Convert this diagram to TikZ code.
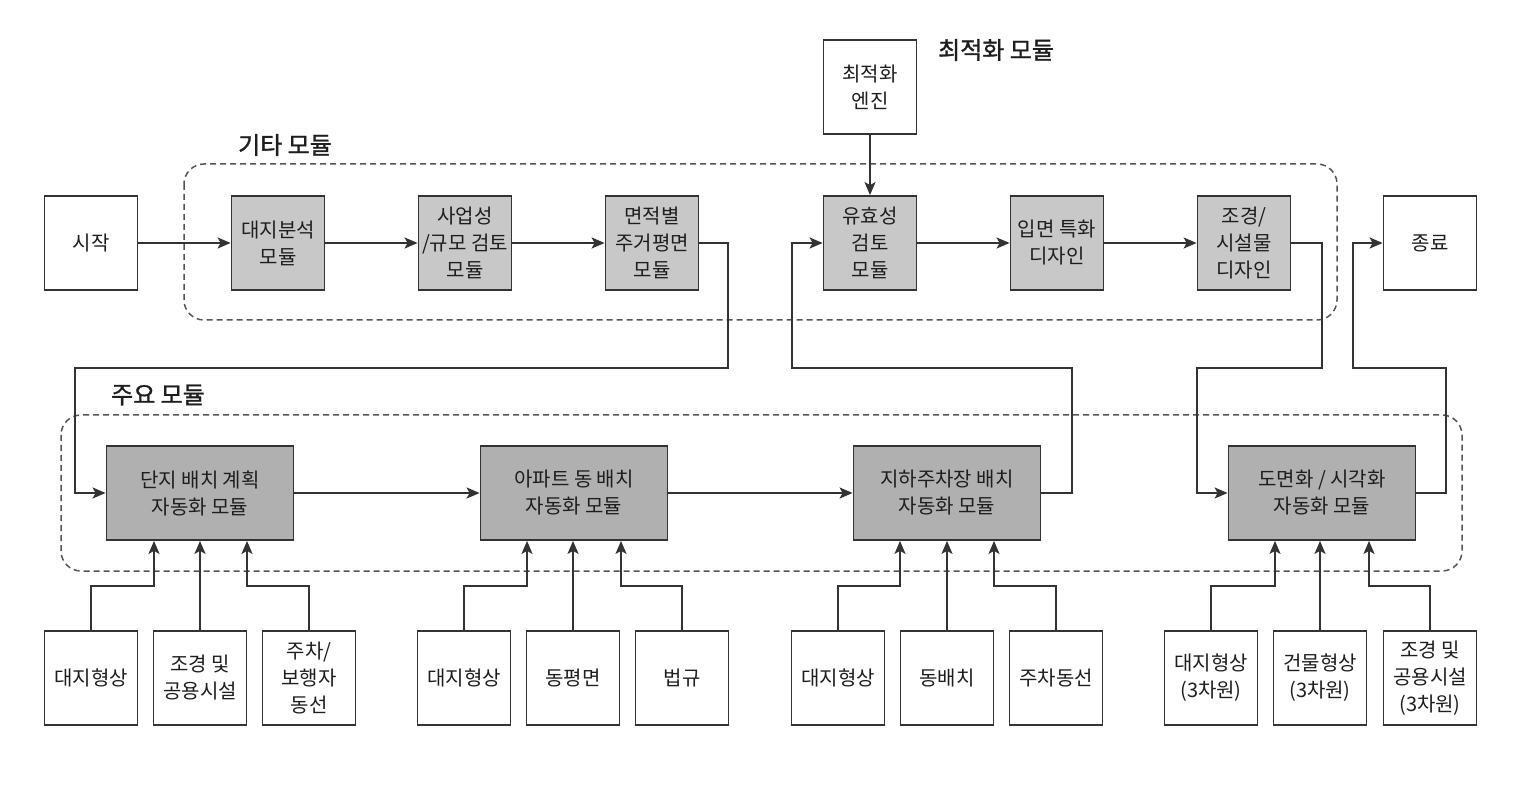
\documentclass[tikz,border=0pt]{standalone}
\usepackage{fontspec}
\setmainfont{Noto Sans CJK KR}
\newfontfamily\krfont{Noto Sans CJK KR}
\newfontfamily\krlabel{Noto Sans CJK KR}[FakeBold=1.2]
\usetikzlibrary{arrows.meta,calc}
\definecolor{linec}{HTML}{333333}
\definecolor{gtop}{HTML}{C8C8C8}
\definecolor{gmain}{HTML}{B0B0B0}
\definecolor{dashc}{HTML}{555555}
\definecolor{txt}{HTML}{1E1E1E}
\tikzset{
  boxtext/.style={font=\krfont\fontsize{20}{27}\selectfont, text=txt, align=center},
  wbox/.style={boxtext, draw=linec, line width=1.8pt, fill=white, minimum width=93pt, minimum height=94pt, inner sep=0pt},
  gbox/.style={wbox, fill=gtop},
  mbox/.style={wbox, fill=gmain, minimum width=187pt},
  conn/.style={draw=linec, line width=1.8pt, -{Stealth[length=13pt,width=11pt,inset=3pt]}},
  dashbox/.style={draw=dashc, line width=1.5pt, dash pattern=on 6pt off 4pt, rounded corners=20pt},
  grouplabel/.style={font=\krlabel\fontsize{24}{27}\selectfont, text=txt}
}
\begin{document}
\begin{tikzpicture}[x=1pt,y=-1pt]
\useasboundingbox (0,0) rectangle (1516,791);
% group frames
\draw[dashbox] (184,164) rectangle (1337,320);
\draw[dashbox] (61,415) rectangle (1462,571);
\node[grouplabel] (lblopt) at (996,50) {최적화 모듈};
\node[grouplabel] (lblother) at (285,145) {기타 모듈};
\node[grouplabel] (lblmain) at (158,395) {주요 모듈};
% top row
\node[wbox] (start) at (91,243) {시작};
\node[gbox] (site) at (278,243) {대지분석\\모듈};
\node[gbox] (biz) at (465,243) {사업성\\/규모 검토\\모듈};
\node[gbox] (plan) at (652,243) {면적별\\주거평면\\모듈};
\node[wbox] (engine) at (870,87) {최적화\\엔진};
\node[gbox] (valid) at (870,243) {유효성\\검토\\모듈};
\node[gbox] (facade) at (1057,243) {입면 특화\\디자인};
\node[gbox] (land) at (1244,243) {조경/\\시설물\\디자인};
\node[wbox] (end) at (1430,243) {종료};
% main row
\node[mbox] (danji) at (200,493) {단지 배치 계획\\자동화 모듈};
\node[mbox] (apt) at (574,493) {아파트 동 배치\\자동화 모듈};
\node[mbox] (park) at (947,493) {지하주차장 배치\\자동화 모듈};
\node[mbox] (draw) at (1322,493) {도면화 / 시각화\\자동화 모듈};
% inputs
\node[wbox] (a1) at (91,678) {대지형상};
\node[wbox] (a2) at (200,678) {조경 및\\공용시설};
\node[wbox] (a3) at (309,678) {주차/\\보행자\\동선};
\node[wbox] (b1) at (464,678) {대지형상};
\node[wbox] (b2) at (573,678) {동평면};
\node[wbox] (b3) at (682,678) {법규};
\node[wbox] (c1) at (838,678) {대지형상};
\node[wbox] (c2) at (947,678) {동배치};
\node[wbox] (c3) at (1056,678) {주차동선};
\node[wbox] (d1) at (1211,678) {대지형상\\(3차원)};
\node[wbox] (d2) at (1320,678) {건물형상\\(3차원)};
\node[wbox] (d3) at (1430,678) {조경 및\\공용시설\\(3차원)};
% top row flow
\draw[conn] (start) -- (site);
\draw[conn] (site) -- (biz);
\draw[conn] (biz) -- (plan);
\draw[conn] (engine) -- (valid);
\draw[conn] (valid) -- (facade);
\draw[conn] (facade) -- (land);
% main row flow
\draw[conn] (danji) -- (apt);
\draw[conn] (apt) -- (park);
% loops
\coordinate (p1) at (728,368);
\coordinate (p2) at (75,493);
\draw[conn] (plan.east) -| (p1) -| (p2) -- (danji.west);
\coordinate (q1) at (1072,368);
\coordinate (q2) at (792,243);
\draw[conn] (park.east) -| (q1) -| (q2) -- (valid.west);
\coordinate (r1) at (1322,368);
\coordinate (r2) at (1197,493);
\draw[conn] (land.east) -| (r1) -| (r2) -- (draw.west);
\coordinate (s1) at (1446,368);
\coordinate (s2) at (1353,243);
\draw[conn] (draw.east) -| (s1) -| (s2) -- (end.west);
% inputs to main modules
\coordinate (ja1) at (154,586);
\coordinate (ja3) at (247,586);
\draw[conn] (a1.north) |- (ja1) -- (ja1 |- danji.south);
\draw[conn] (a2.north) -- (a2.north |- danji.south);
\draw[conn] (a3.north) |- (ja3) -- (ja3 |- danji.south);
\coordinate (jb1) at (527,586);
\coordinate (jb3) at (621,586);
\draw[conn] (b1.north) |- (jb1) -- (jb1 |- apt.south);
\draw[conn] (b2.north) -- (b2.north |- apt.south);
\draw[conn] (b3.north) |- (jb3) -- (jb3 |- apt.south);
\coordinate (jc1) at (900,586);
\coordinate (jc3) at (994,586);
\draw[conn] (c1.north) |- (jc1) -- (jc1 |- park.south);
\draw[conn] (c2.north) -- (c2.north |- park.south);
\draw[conn] (c3.north) |- (jc3) -- (jc3 |- park.south);
\coordinate (jd1) at (1275,586);
\coordinate (jd3) at (1369,586);
\draw[conn] (d1.north) |- (jd1) -- (jd1 |- draw.south);
\draw[conn] (d2.north) -- (d2.north |- draw.south);
\draw[conn] (d3.north) |- (jd3) -- (jd3 |- draw.south);
\end{tikzpicture}
\end{document}
